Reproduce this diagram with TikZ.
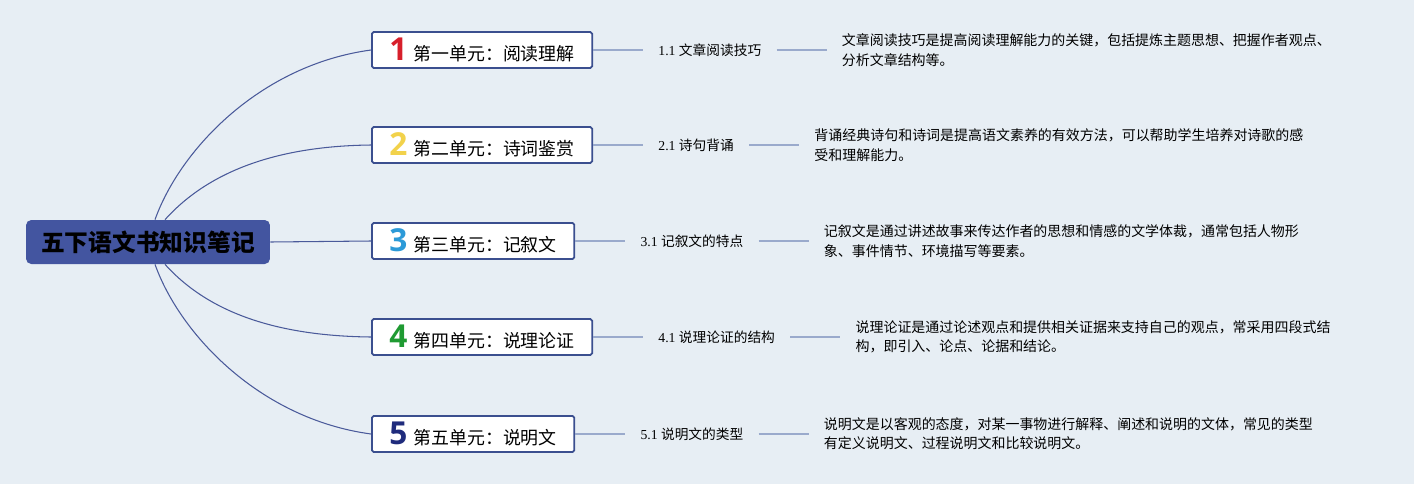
\documentclass[tikz,border=0pt]{standalone}
\usepackage{fontspec}
\setmainfont{Liberation Serif}
\newfontfamily\cjk{Noto Sans CJK SC}
\newfontfamily\numfont{Open Sans}
\usepackage{tikz}
\usetikzlibrary{calc,positioning}
\definecolor{bgcol}{HTML}{E7EEF4}
\definecolor{rootcol}{HTML}{4355A0}
\definecolor{boxline}{HTML}{3B4F8F}
\definecolor{linkcol}{HTML}{4A5A9A}
\definecolor{sublink}{HTML}{9AAACC}
\definecolor{numone}{HTML}{D71F2B}
\definecolor{numtwo}{HTML}{F2D24B}
\definecolor{numthree}{HTML}{2C9AD8}
\definecolor{numfour}{HTML}{1F9A32}
\definecolor{numfive}{HTML}{1F2B7C}
\tikzset{
  rootbox/.style={draw=none,fill=rootcol,rounded corners=3pt,minimum width=4.88cm,minimum height=0.88cm,
    font=\cjk\bfseries\fontsize{13.5}{14}\selectfont,text=black},
  unitbox/.style={draw=boxline,line width=1pt,fill=white,rounded corners=1pt,anchor=west,
    inner xsep=0.35cm,inner ysep=0pt,minimum height=0.72cm,font=\cjk\fontsize{10.2}{12}\selectfont},
  subtopic/.style={inner xsep=0.3cm,font=\fontsize{7.8}{10}\selectfont},
  detail/.style={inner xsep=0.3cm,align=left,font=\cjk\fontsize{7.95}{11}\selectfont},
  branch/.style={draw=linkcol,line width=0.6pt},
  twig/.style={draw=sublink,line width=1pt}
}
\newcommand{\unitnum}[2]{{\numfont\bfseries\fontsize{18}{18}\selectfont\color{#1}#2}\hspace{0.12cm}}
\begin{document}
\begin{tikzpicture}[x=0.02cm,y=-0.02cm]
\fill[bgcol] (0,0) rectangle (1414,484);
\useasboundingbox (0,0) rectangle (1414,484);

\node[rootbox] (root) at (148,242) {五下语文书知识笔记};

\node[unitbox] (u1) at (371,50) {\unitnum{numone}{1}第一单元：阅读理解};
\node[unitbox] (u2) at (371,145) {\unitnum{numtwo}{2}第二单元：诗词鉴赏};
\node[unitbox] (u3) at (371,241) {\unitnum{numthree}{3}第三单元：记叙文};
\node[unitbox] (u4) at (371,337) {\unitnum{numfour}{4}第四单元：说理论证};
\node[unitbox] (u5) at (371,434) {\unitnum{numfive}{5}第五单元：说明文};

\node[subtopic,right=1cm of u1] (s1) {1.1 {\cjk 文章阅读技巧}};
\node[subtopic,right=1cm of u2] (s2) {2.1 {\cjk 诗句背诵}};
\node[subtopic,right=1cm of u3] (s3) {3.1 {\cjk 记叙文的特点}};
\node[subtopic,right=1cm of u4] (s4) {4.1 {\cjk 说理论证的结构}};
\node[subtopic,right=1cm of u5] (s5) {5.1 {\cjk 说明文的类型}};

\node[detail,right=1cm of s1] (d1) {文章阅读技巧是提高阅读理解能力的关键，包括提炼主题思想、把握作者观点、\\分析文章结构等。};
\node[detail,right=1cm of s2] (d2) {背诵经典诗句和诗词是提高语文素养的有效方法，可以帮助学生培养对诗歌的感\\受和理解能力。};
\node[detail,right=1cm of s3] (d3) {记叙文是通过讲述故事来传达作者的思想和情感的文学体裁，通常包括人物形\\象、事件情节、环境描写等要素。};
\node[detail,right=1cm of s4] (d4) {说理论证是通过论述观点和提供相关证据来支持自己的观点，常采用四段式结\\构，即引入、论点、论据和结论。};
\node[detail,right=1cm of s5] (d5) {说明文是以客观的态度，对某一事物进行解释、阐述和说明的文体，常见的类型\\有定义说明文、过程说明文和比较说明文。};

% branches from the root
\draw[branch] ($(root.north)+(7,0)$) .. controls +(25,-70) and +(-111,15) .. (u1.west);
\draw[branch] ($(root.north)+(17,0)$) .. controls +(45,-50) and +(-91,1) .. (u2.west);
\draw[branch] (root.east) -- (u3.west);
\draw[branch] ($(root.south)+(17,0)$) .. controls +(45,50) and +(-91,-1) .. (u4.west);
\draw[branch] ($(root.south)+(7,0)$) .. controls +(25,70) and +(-111,-15) .. (u5.west);

% sub topics
\foreach \i in {1,...,5}{
  \draw[twig] (u\i.east) -- (s\i.west);
  \draw[twig] (s\i.east) -- (s\i.east -| d\i.west);
}
\end{tikzpicture}
\end{document}
